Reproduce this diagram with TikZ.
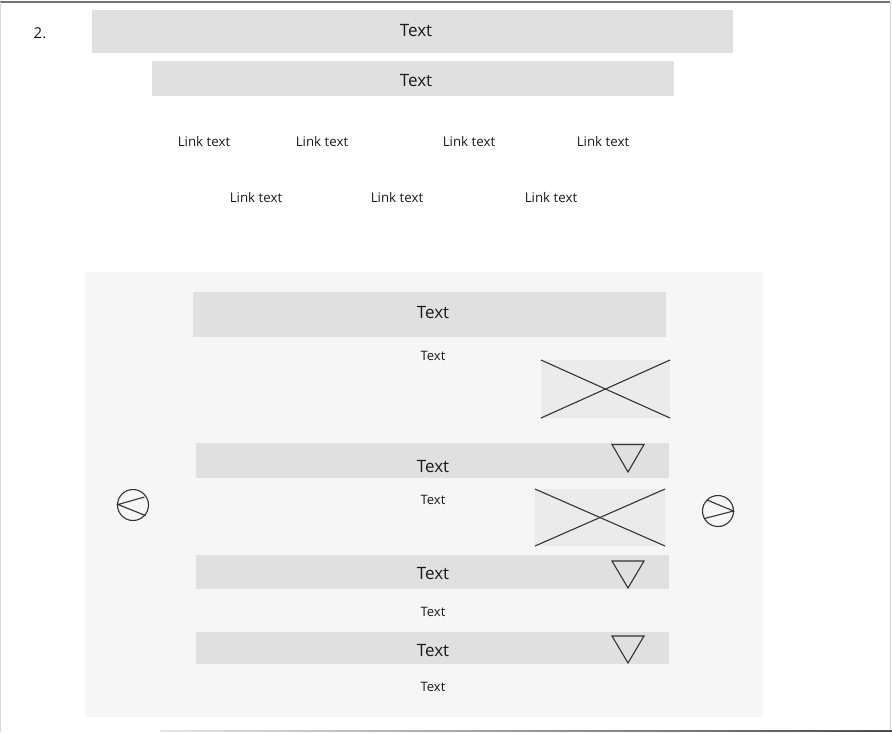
\documentclass[tikz,border=0pt]{standalone}
\usepackage{fontspec}
\setmainfont{Open Sans}
\definecolor{barfill}{HTML}{E0E0E0}
\definecolor{panelfill}{HTML}{F6F6F6}
\definecolor{imgfill}{HTML}{EBEBEB}
\definecolor{ink}{HTML}{1A1A1A}
\definecolor{lineink}{HTML}{333333}
\tikzset{
  bar/.style={fill=barfill, draw=none},
  bigtext/.style={font=\fontsize{17}{20}\selectfont, text=ink, inner sep=0pt, yshift=-1pt},
  smalltext/.style={font=\fontsize{13}{15}\selectfont, text=ink, inner sep=0pt, yshift=-1pt},
  linktext/.style={font=\fontsize{13.3}{15}\selectfont, text=ink, inner sep=0pt, yshift=-1pt},
  imgbox/.style={fill=imgfill, draw=none},
  thinline/.style={draw=lineink, line width=1.1pt},
}
\begin{document}
\begin{tikzpicture}[x=1pt,y=-1pt]
\useasboundingbox (0,0) rectangle (892,732);
% frame
\draw[draw=gray!90!black, line width=1.6pt] (0,2) -- (890,2);
\draw[draw=black!15, line width=1pt] (0.8,2) -- (0.8,732);
\draw[draw=black!15, line width=1pt] (890.5,2) -- (890.5,732);
\shade[left color=black!10, right color=black!70] (160,730.2) rectangle (892,731.8);
\node[font=\fontsize{15}{18}\selectfont, text=ink, inner sep=0pt, yshift=-1pt] (num) at (40,32) {2.};
% top bars
\fill[bar] (92,10) rectangle (733,53);
\node[bigtext] (t1) at (416,30) {Text};
\fill[bar] (152,61) rectangle (674,96);
\node[bigtext] (t2) at (416,80) {Text};
% links
\node[linktext] (l1) at (204,141) {Link text};
\node[linktext] (l2) at (322,141) {Link text};
\node[linktext] (l3) at (469,141) {Link text};
\node[linktext] (l4) at (603,141) {Link text};
\node[linktext] (l5) at (256,197) {Link text};
\node[linktext] (l6) at (397,197) {Link text};
\node[linktext] (l7) at (551,197) {Link text};
% panel
\fill[panelfill] (85,272) rectangle (763,717);
\fill[bar] (193,292) rectangle (666,337);
\node[bigtext] (t3) at (433,312) {Text};
\node[smalltext] (s1) at (433,355) {Text};
% image 1
\fill[imgbox] (541,360) rectangle (670,418);
\draw[thinline] (541,360) -- (670,418);
\draw[thinline] (541,418) -- (670,360);
% bar 4
\fill[bar] (196,443) rectangle (669,478);
\node[bigtext] (t4) at (433,466) {Text};
\draw[thinline, line join=miter] (612,444.5) -- (644,444.5) -- (628,472) -- cycle;
\node[smalltext] (s2) at (433,499) {Text};
% image 2
\fill[imgbox] (535,489) rectangle (665,546);
\draw[thinline] (535,489) -- (665,546);
\draw[thinline] (535,546) -- (665,489);
% bar 5
\fill[bar] (196,555) rectangle (669,589);
\node[bigtext] (t5) at (433,573) {Text};
\draw[thinline, line join=miter] (612,561) -- (644,561) -- (628,588) -- cycle;
\node[smalltext] (s3) at (433,611) {Text};
% bar 6
\fill[bar] (196,632) rectangle (669,664);
\node[bigtext] (t6) at (433,650) {Text};
\draw[thinline, line join=miter] (612,636) -- (644,636) -- (628,663) -- cycle;
\node[smalltext] (s4) at (433,686) {Text};
% left arrow circle
\draw[thinline] (133,505) circle (15.5);
\draw[thinline] (144.5,497) -- (118,504.5) -- (145.5,515.5);
% right arrow circle
\draw[thinline] (718,511) circle (15.5);
\draw[thinline] (707,500) -- (733.5,511) -- (704.5,518.5);
\end{tikzpicture}
\end{document}
